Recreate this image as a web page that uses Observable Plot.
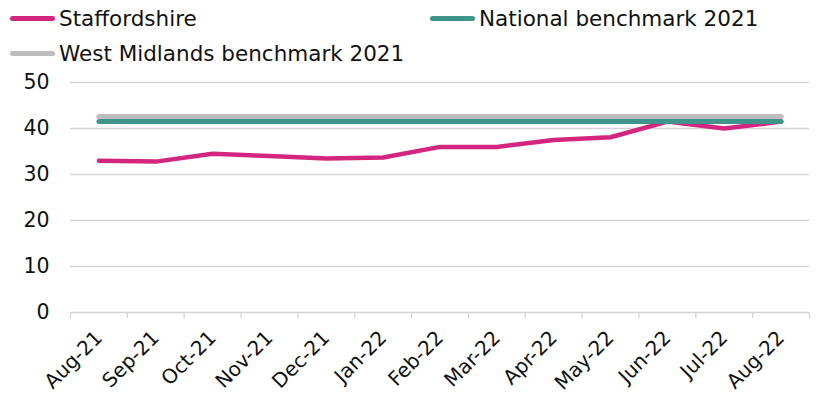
<!DOCTYPE html>
<html>
<head>
<meta charset="utf-8">
<script src="https://cdn.jsdelivr.net/npm/d3@7"></script>
<script src="https://cdn.jsdelivr.net/npm/@observablehq/plot@0.6"></script>
<style>
  html, body { margin: 0; padding: 0; background: #fff; }
  body { width: 816px; height: 398px; overflow: hidden; font-family: "DejaVu Sans", Verdana, sans-serif; }
  #legend { position: relative; width: 816px; height: 70px; font-size: 21.5px; color: #111; }
  .item { position: absolute; display: flex; align-items: center; white-space: nowrap; }
  .sw { width: 45px; height: 5px; border-radius: 3px; margin-right: 4px; }
  #chart svg { display: block; }
</style>
</head>
<body>
<div id="legend"></div>
<div id="chart"></div>
<script>
const months = ["Aug-21","Sep-21","Oct-21","Nov-21","Dec-21","Jan-22","Feb-22","Mar-22","Apr-22","May-22","Jun-22","Jul-22","Aug-22"];
const staffordshire = [33.0, 32.8, 34.5, 34.0, 33.5, 33.7, 36.0, 36.0, 37.5, 38.1, 41.5, 40.0, 41.5];
const nationalBenchmark2021 = 41.5;
const westMidlandsBenchmark2021 = 42.6;
const yTicks = [0, 10, 20, 30, 40, 50];
const seriesNames = ["Staffordshire", "National benchmark 2021", "West Midlands benchmark 2021"];
const seriesColors = ["#d3267f", "#3f948b", "#bdbdbd"];

// legend
const legendPos = [[10, 4], [430, 4], [10, 39]];
const legend = document.getElementById("legend");
seriesNames.forEach((name, i) => {
  const it = document.createElement("div");
  it.className = "item";
  it.style.left = legendPos[i][0] + "px";
  it.style.top = legendPos[i][1] + "px";
  it.style.height = "28px";
  const sw = document.createElement("span");
  sw.className = "sw";
  sw.style.background = seriesColors[i];
  const tx = document.createElement("span");
  tx.textContent = name;
  it.appendChild(sw); it.appendChild(tx);
  legend.appendChild(it);
});

const staffData = staffordshire.map((v, i) => ({x: i + 0.5, y: v}));
const natData = months.map((m, i) => ({x: i + 0.5, y: nationalBenchmark2021}));
const wmData = months.map((m, i) => ({x: i + 0.5, y: westMidlandsBenchmark2021}));

const chart = Plot.plot({
  width: 816,
  height: 328,
  marginTop: 12,
  marginBottom: 86,
  marginLeft: 70,
  marginRight: 7,
  style: {fontFamily: "DejaVu Sans, Verdana, sans-serif", fontSize: "20px", color: "#111", background: "#fff"},
  x: {domain: [0, months.length]},
  y: {domain: [0, 50]},
  marks: [
    Plot.gridY(yTicks, {stroke: "#d4d4d4", strokeOpacity: 1, strokeWidth: 1.3}),
    Plot.axisY({ticks: yTicks, tickSize: 0, tickPadding: 21, fontSize: 20.5, label: null}),
    Plot.axisX({ticks: d3.range(months.length + 1), tickSize: 6, tickFormat: () => "", stroke: "#d4d4d4", strokeWidth: 1.3, label: null}),
    Plot.axisX({ticks: months.map((m, i) => i + 0.5), tickFormat: d => months[Math.round(d - 0.5)], tickSize: 0, tickPadding: 22, tickRotate: -45, fontSize: 20, label: null}),
    Plot.line(staffData, {x: "x", y: "y", stroke: seriesColors[0], strokeWidth: 4.5, strokeLinecap: "round", strokeLinejoin: "round"}),
    Plot.line(wmData, {x: "x", y: "y", stroke: seriesColors[2], strokeWidth: 5, strokeLinecap: "round"}),
    Plot.line(natData, {x: "x", y: "y", stroke: seriesColors[1], strokeWidth: 5, strokeLinecap: "round"})
  ]
});
document.getElementById("chart").appendChild(chart);
</script>
</body>
</html>
